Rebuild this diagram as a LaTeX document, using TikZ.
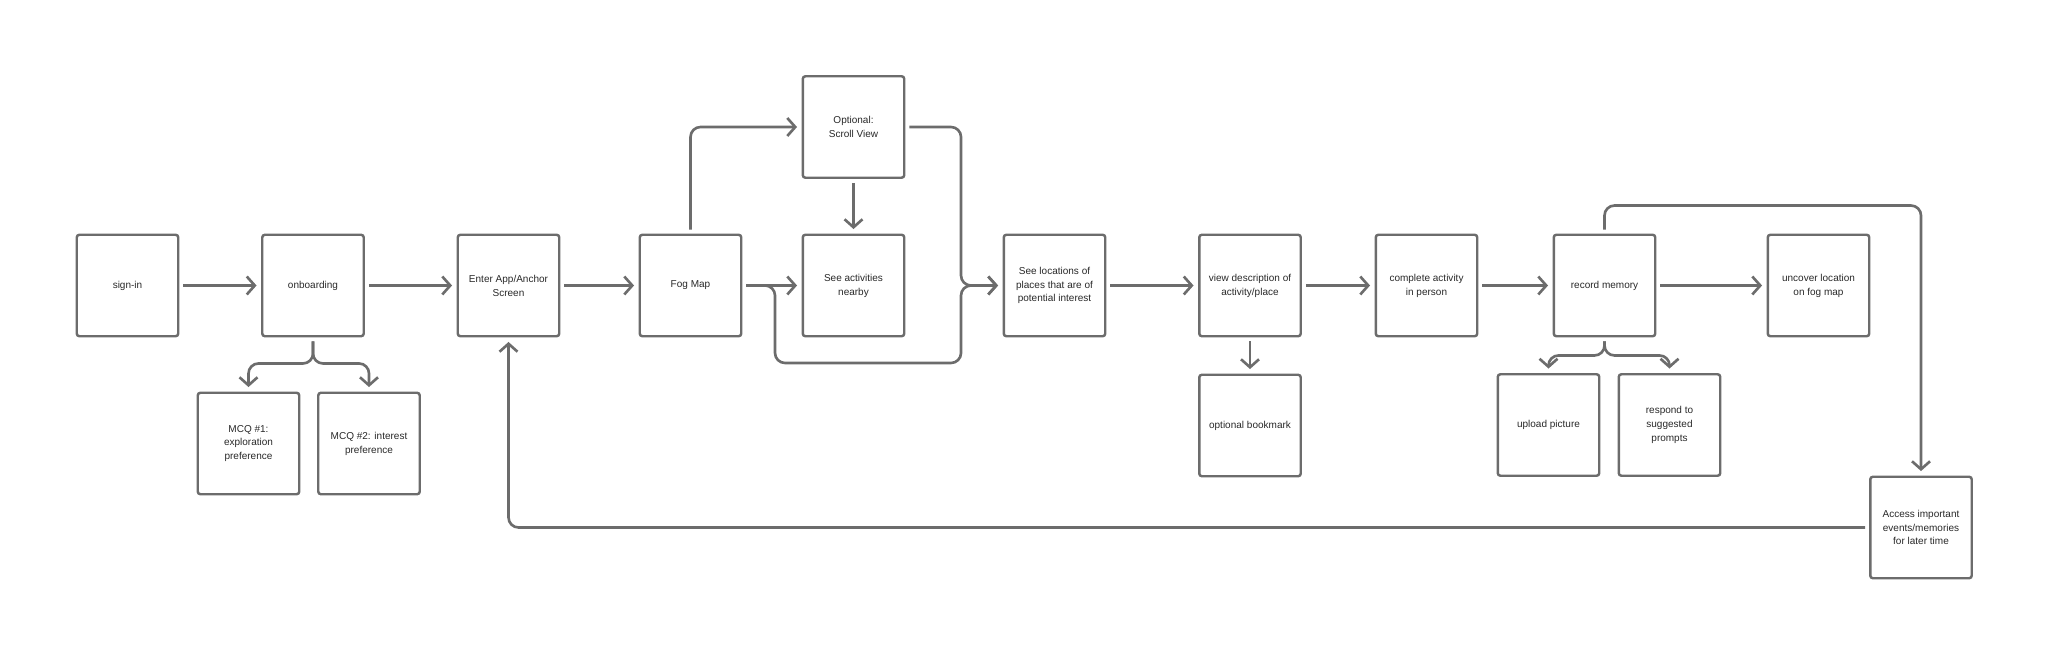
\documentclass[tikz,border=0pt]{standalone}
\usepackage{fontspec}
\setmainfont{Liberation Sans}
\usetikzlibrary{arrows.meta}
\definecolor{linegray}{RGB}{108,108,108}
\definecolor{textgray}{RGB}{40,40,40}
\tikzset{box/.style = {draw=linegray, line width=1.4pt, rounded corners=1.5pt, minimum width=2.03cm, minimum height=2.03cm, align=center, text=textgray, font=\fontsize{5.7}{7.9}\selectfont}}
\tikzset{flow/.style = {draw=linegray, line width=1.5pt, rounded corners=0.2cm, shorten <=0.08cm, shorten >=0.09cm, -{Straight Barb[length=0.16cm,width=0.36cm]}}}

\begin{document}
\begin{tikzpicture}[x=0.02cm, y=-0.02cm]
	\useasboundingbox (0,0) rectangle (2048,655);
	\node [box] (signin) at (127.5,285.5) {sign-in};
	\node [box] (onboard) at (313,285.5) {onboarding};
	\node [box] (mcqone) at (248.5,443.5) {MCQ \#1:\\exploration\\preference};
	\node [box] (mcqtwo) at (369,443.5) {MCQ \#2: interest\\preference};
	\node [box] (enter) at (508.5,285.5) {Enter App/Anchor\\Screen};
	\node [box] (fog) at (690.5,285.5) {Fog Map};
	\node [box] (scroll) at (853.5,127) {Optional:\\Scroll View};
	\node [box] (nearby) at (853.5,285.5) {See activities\\nearby};
	\node [box] (places) at (1054.5,285.5) {See locations of\\places that are of\\potential interest};
	\node [box] (desc) at (1250,285.5) {view description of\\activity/place};
	\node [box] (bookmark) at (1250,425.5) {optional bookmark};
	\node [box] (complete) at (1426.5,285.5) {complete activity\\in person};
	\node [box] (record) at (1604.5,285.5) {record memory};
	\node [box] (upload) at (1548.5,425) {upload picture};
	\node [box] (respond) at (1669.5,425) {respond to\\suggested\\prompts};
	\node [box] (uncover) at (1818.5,285.5) {uncover location\\on fog map};
	\node [box] (access) at (1921,527.5) {Access important\\events/memories\\for later time};
	\coordinate (dip) at (775,363);
	\coordinate (merge) at (961,285.5);

	\draw [flow] (signin) -- (onboard);
	\draw [flow] (onboard) -- (enter);
	\draw [flow] (onboard.south) -- ++(0,26) -| (mcqone.north);
	\draw [flow] (onboard.south) -- ++(0,26) -| (mcqtwo.north);
	\draw [flow] (enter) -- (fog);
	\draw [flow] (fog.north) |- (scroll.west);
	\draw [flow] (scroll) -- (nearby);
	\draw [flow] (fog) -- (nearby);
	% both routes join before the locations box
	\draw [flow] (fog.east) -| (dip) -| (merge) -- (places.west);
	\draw [flow] (scroll.east) -| (merge) -- (places.west);
	\draw [flow] (places) -- (desc);
	\draw [flow] (desc) -- (bookmark);
	\draw [flow] (desc) -- (complete);
	\draw [flow] (complete) -- (record);
	\draw [flow] (record) -- (uncover);
	\draw [flow] (record.south) -- ++(0,18) -| (upload.north);
	\draw [flow] (record.south) -- ++(0,18) -| (respond.north);
	\draw [flow] (record.north) -- ++(0,-28) -| (access.north);
	\draw [flow] (access.west) -| (enter.south);
\end{tikzpicture}
\end{document}
